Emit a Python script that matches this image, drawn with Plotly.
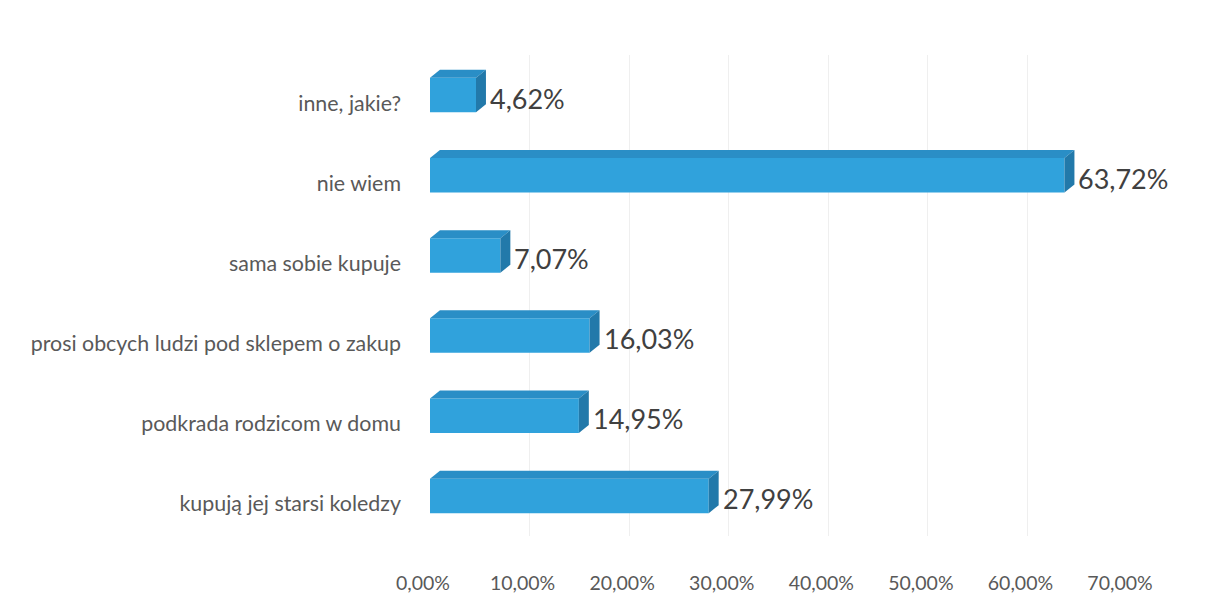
import plotly.graph_objects as go

# bottom to top, as in the chart
categories = ["kupują jej starsi koledzy", "podkrada rodzicom w domu",
              "prosi obcych ludzi pod sklepem o zakup", "sama sobie kupuje",
              "nie wiem", "inne, jakie?"]
values = [27.99, 14.95, 16.03, 7.07, 63.72, 4.62]
x_ticks = [0, 10, 20, 30, 40, 50, 60, 70]


def pl(v):
    return f"{v:.2f}".replace(".", ",") + "%"


front = "#30A2DC"
top_col = "#2A8EC6"
side_col = "#2279AA"
bar_w = 0.43
dx = 1.0    # 3d depth in x units
dy = 0.1    # 3d depth in category units

pos = list(range(len(categories)))

fig = go.Figure()
fig.add_trace(go.Bar(
    x=values, y=pos, orientation="h", width=bar_w,
    marker=dict(color=front, line=dict(width=0)),
    hoverinfo="skip",
))

shapes = []
annotations = []
for p, v in zip(pos, values):
    t = p + bar_w / 2
    b = p - bar_w / 2
    # top face
    shapes.append(dict(
        type="path", xref="x", yref="y", layer="above",
        path=f"M 0 {t} L {v} {t} L {v+dx} {t+dy} L {dx} {t+dy} Z",
        fillcolor=top_col, line=dict(width=0)))
    # side face
    shapes.append(dict(
        type="path", xref="x", yref="y", layer="above",
        path=f"M {v} {b} L {v} {t} L {v+dx} {t+dy} L {v+dx} {b+dy} Z",
        fillcolor=side_col, line=dict(width=0)))
    annotations.append(dict(
        x=v + dx, y=p, xref="x", yref="y",
        text=pl(v), showarrow=False, xanchor="left", xshift=2, yshift=-3,
        font=dict(family="Lato", size=27, color="#404040")))

fig.update_layout(
    width=1205, height=598,
    paper_bgcolor="white", plot_bgcolor="white",
    margin=dict(l=422, r=86, t=47, b=70),
    showlegend=False,
    shapes=shapes, annotations=annotations,
    font=dict(family="Lato", color="#595959"),
    xaxis=dict(range=[0, 70], tickvals=x_ticks,
               ticktext=[pl(t) for t in x_ticks],
               showgrid=True, gridcolor="#EFEFEF",
               zeroline=False, showline=False,
               tickfont=dict(size=19.5, color="#595959"),
               ticklabelstandoff=33, ticklabelshift=-7),
    yaxis=dict(range=[-0.5, len(categories) - 0.5], tickvals=pos,
               ticktext=categories, showgrid=False, zeroline=False,
               tickfont=dict(size=21.4, color="#595959"),
               ticklabelstandoff=28, ticklabelshift=8, automargin=False),
)

fig.write_html("out.html")
